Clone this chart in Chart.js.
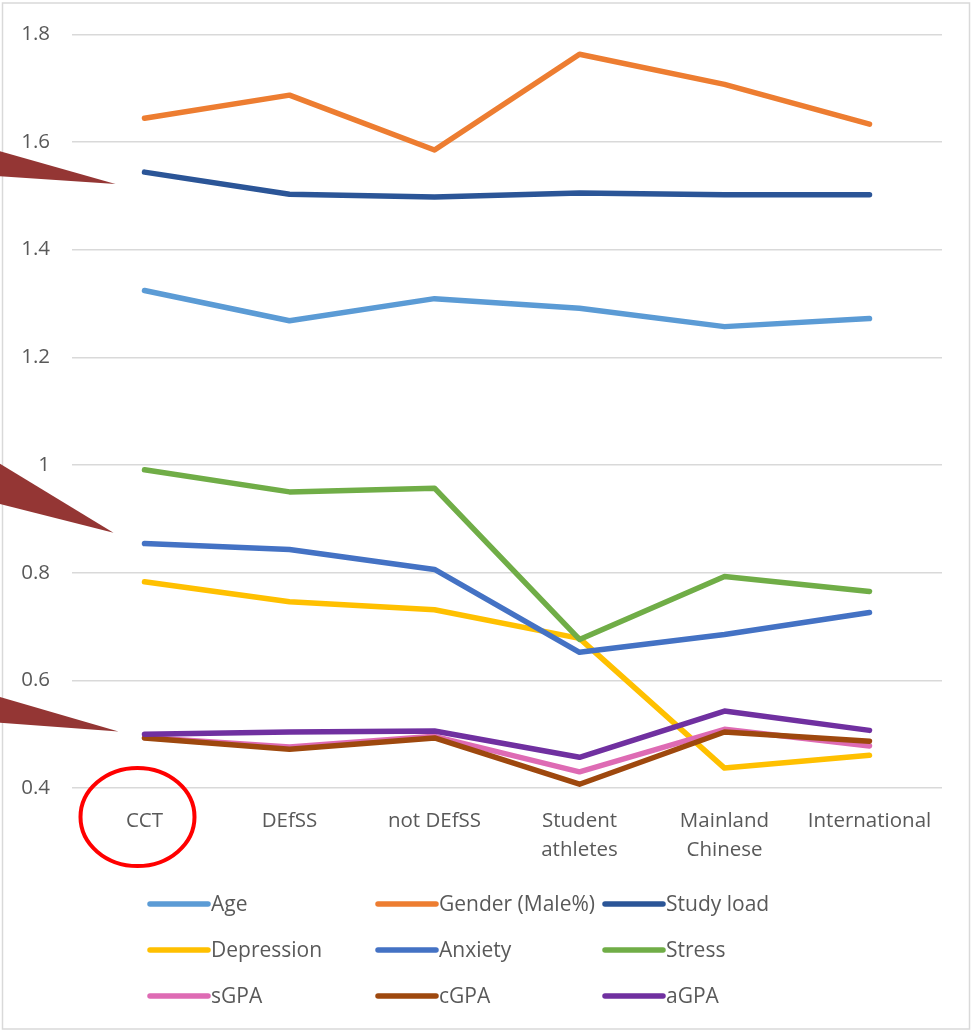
<!DOCTYPE html>
<html>
<head>
<meta charset="utf-8">
<script src="https://cdn.jsdelivr.net/npm/chart.js@4/dist/chart.umd.min.js"></script>
<style>
  html, body { margin: 0; padding: 0; background: #ffffff; }
  #wrap { width: 971px; height: 1031px; }
</style>
</head>
<body>
<div id="wrap"><canvas id="chart" width="971" height="1031"></canvas></div>
<script>
// Group categories along the x axis
const categories = ['CCT', 'DEfSS', 'not DEfSS', ['Student', 'athletes'], ['Mainland', 'Chinese'], 'International'];

// Series values per group
const age        = [1.324, 1.268, 1.309, 1.291, 1.257, 1.272];
const gender     = [1.644, 1.687, 1.585, 1.763, 1.707, 1.633];
const studyLoad  = [1.544, 1.503, 1.498, 1.505, 1.502, 1.502];
const depression = [0.783, 0.746, 0.731, 0.678, 0.437, 0.461];
const anxiety    = [0.854, 0.843, 0.806, 0.652, 0.685, 0.726];
const stress     = [0.991, 0.950, 0.957, 0.676, 0.793, 0.765];
const sGPA       = [0.494, 0.476, 0.496, 0.430, 0.509, 0.478];
const cGPA       = [0.493, 0.472, 0.493, 0.407, 0.504, 0.487];
const aGPA       = [0.500, 0.504, 0.506, 0.457, 0.543, 0.507];

const seriesNames = ['Age', 'Gender (Male%)', 'Study load', 'Depression', 'Anxiety', 'Stress', 'sGPA', 'cGPA', 'aGPA'];
const seriesValues = [age, gender, studyLoad, depression, anxiety, stress, sGPA, cGPA, aGPA];
const seriesColors = ['#5B9BD5', '#ED7D31', '#2B5597', '#FFC000', '#4472C4', '#70AD47', '#DE6BB4', '#9E480E', '#7030A0'];

// Value axis range and tick step
const yMin = 0.4, yMax = 1.8, yStep = 0.2;

// Values the callout pointers aim at, next to the first group
const pointerTargets = [1.522, 0.874, 0.505];

const FONT = '"Open Sans", "Liberation Sans", sans-serif';
const TEXT_COLOR = '#595959';
const GRID_COLOR = '#D9D9D9';

// Outer frame around the whole chart
const framePlugin = {
  id: 'frame',
  beforeDraw(chart) {
    const ctx = chart.ctx;
    ctx.save();
    ctx.fillStyle = '#ffffff';
    ctx.fillRect(0, 0, chart.width, chart.height);
    ctx.strokeStyle = GRID_COLOR;
    ctx.lineWidth = 1.5;
    ctx.strokeRect(2.5, 3, chart.width - 4, chart.height - 5);
    ctx.restore();
  }
};

// Three-column legend below the category labels
const gridLegendPlugin = {
  id: 'gridLegend',
  afterDraw(chart) {
    const ctx = chart.ctx;
    const colX = [150, 378, 605];
    const rowY = [904, 950, 996];
    const lineLen = 58;
    ctx.save();
    ctx.font = '21px ' + FONT;
    ctx.textBaseline = 'middle';
    ctx.textAlign = 'left';
    chart.data.datasets.forEach((ds, i) => {
      const x = colX[i % 3];
      const y = rowY[Math.floor(i / 3)];
      ctx.strokeStyle = ds.borderColor;
      ctx.lineWidth = 5.5;
      ctx.lineCap = 'round';
      ctx.beginPath();
      ctx.moveTo(x, y);
      ctx.lineTo(x + lineLen, y);
      ctx.stroke();
      ctx.fillStyle = TEXT_COLOR;
      ctx.fillText(ds.label, x + lineLen + 3, y + 1);
    });
    ctx.restore();
  }
};

// Callout pointers and the ring around the first category label
const calloutPlugin = {
  id: 'callouts',
  afterDraw(chart) {
    const ctx = chart.ctx;
    const xs = chart.scales.x, ys = chart.scales.y;
    const x0 = xs.getPixelForValue(0);
    const bases = [[-33, -8], [-71, -30], [-35, -9]];
    const tipDx = [-29, -31, -26];
    ctx.save();
    ctx.fillStyle = '#943634';
    pointerTargets.forEach((v, i) => {
      const tx = x0 + tipDx[i];
      const ty = ys.getPixelForValue(v);
      ctx.beginPath();
      ctx.moveTo(tx, ty);
      ctx.lineTo(-5, ty + bases[i][0] - 1);
      ctx.lineTo(-5, ty + bases[i][1]);
      ctx.closePath();
      ctx.fill();
    });
    ctx.strokeStyle = '#FF0000';
    ctx.lineWidth = 4;
    ctx.beginPath();
    ctx.ellipse(x0 - 7, ys.bottom + 29, 57, 49, 0, 0, Math.PI * 2);
    ctx.stroke();
    ctx.restore();
  }
};

const datasets = seriesNames.map((name, i) => ({
  label: name,
  data: seriesValues[i],
  borderColor: seriesColors[i],
  backgroundColor: seriesColors[i],
  borderWidth: 5.5,
  borderCapStyle: 'round',
  borderJoinStyle: 'round',
  pointRadius: 0,
  pointHoverRadius: 0,
  tension: 0,
  fill: false,
  order: seriesNames.length - i
}));

new Chart(document.getElementById('chart'), {
  type: 'line',
  data: { labels: categories, datasets },
  plugins: [framePlugin, gridLegendPlugin, calloutPlugin],
  options: {
    responsive: false,
    animation: false,
    events: [],
    layout: { padding: { top: 33, right: 29, bottom: 143, left: 0 } },
    plugins: {
      legend: { display: false },
      tooltip: { enabled: false },
      title: { display: false }
    },
    scales: {
      x: {
        offset: true,
        grid: { display: false, drawTicks: false },
        border: { display: false },
        ticks: {
          color: TEXT_COLOR,
          font: { family: FONT, size: 20.5, lineHeight: 1.45 },
          padding: 18,
          maxRotation: 0,
          autoSkip: false
        },
        afterFit(scale) { scale.height = 100; }
      },
      y: {
        min: yMin,
        max: yMax,
        grid: { color: GRID_COLOR, lineWidth: 1.5, drawTicks: false },
        border: { display: false },
        ticks: {
          stepSize: yStep,
          color: TEXT_COLOR,
          font: { family: FONT, size: 20.5 },
          padding: 22,
          callback: v => String(Number(v.toFixed(1)))
        },
        afterFit(scale) { scale.width = 72; }
      }
    }
  }
});
</script>
</body>
</html>
